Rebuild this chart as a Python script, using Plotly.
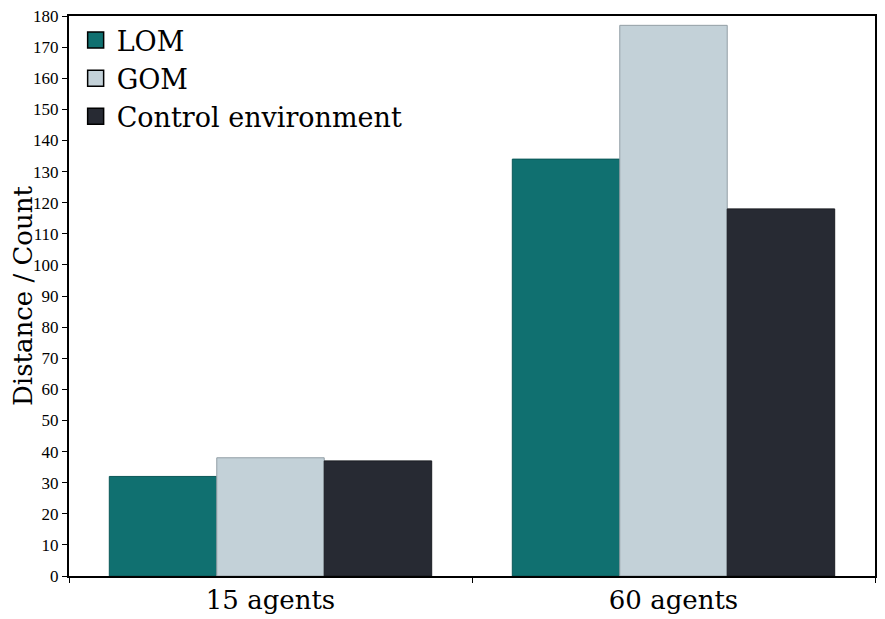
import plotly.graph_objects as go

categories = ["15 agents", "60 agents"]
series_names = ["LOM", "GOM", "Control environment"]
lom_values = [32, 134]
gom_values = [38, 177]
control_values = [37, 118]

fill_colors = ["#107070", "#c3d1d8", "#272a33"]
edge_colors = ["#0b5858", "#939fa5", "#1b1d23"]

fig = go.Figure()

# one bar trace per series
for name, values, fill, edge in zip(series_names,
                                    [lom_values, gom_values, control_values],
                                    fill_colors, edge_colors):
    fig.add_trace(go.Bar(
        x=categories, y=values, name=name, showlegend=False,
        marker=dict(color=fill, line=dict(color=edge, width=1)),
    ))

# legend entries with bigger square swatches
for name, fill in zip(series_names, fill_colors):
    fig.add_trace(go.Scatter(
        x=[None], y=[None], mode="markers", name=name,
        marker=dict(symbol="square", size=22, color=fill,
                    line=dict(color="black", width=1.5)),
    ))

# page body has an 8px margin, so the figure is a bit smaller than the window
fig.update_layout(
    barmode="group",
    bargap=0.2,
    bargroupgap=0,
    width=877,
    height=611,
    margin=dict(l=61, r=10, t=8, b=43),
    paper_bgcolor="white",
    plot_bgcolor="white",
    font=dict(family="Liberation Serif", color="black"),
    legend=dict(
        x=0.007, y=1.0, xanchor="left", yanchor="top",
        font=dict(size=27, family="DejaVu Serif"),
        bgcolor="rgba(0,0,0,0)",
        itemwidth=32,
        tracegroupgap=0,
    ),
    showlegend=True,
)

# y title as an annotation so it sits left of the tick labels
fig.add_annotation(
    text="Distance / Count", textangle=-90,
    xref="paper", yref="paper", x=0, y=0.5,
    xanchor="center", yanchor="middle", xshift=-46,
    showarrow=False,
    font=dict(size=26, family="DejaVu Serif", color="black"),
)

fig.update_yaxes(
    range=[0, 180],
    dtick=10,
    automargin=False,
    showgrid=False,
    zeroline=False,
    showline=True,
    linecolor="black",
    linewidth=2,
    mirror=True,
    ticks="outside",
    ticklen=5,
    tickcolor="black",
    ticklabeloverflow="allow",
    tickfont=dict(size=17, family="Liberation Serif"),
)

fig.update_xaxes(
    automargin=False,
    showgrid=False,
    showline=True,
    linecolor="black",
    linewidth=2,
    mirror=True,
    ticks="outside",
    tickson="boundaries",
    ticklen=5,
    tickcolor="black",
    tickfont=dict(size=26, family="DejaVu Serif"),
)

fig.write_html("out.html")
